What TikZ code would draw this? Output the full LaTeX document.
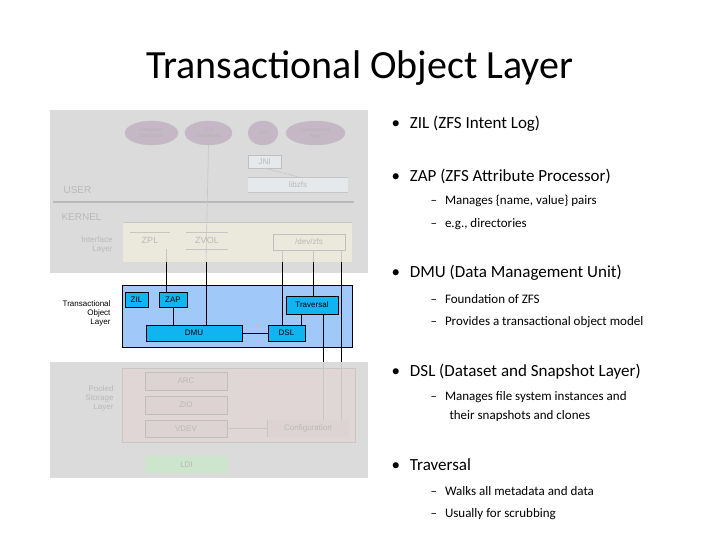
\documentclass[tikz,border=0pt]{standalone}
\usepackage{fontspec}
\setmainfont{Carlito}
\newfontfamily\arial{Liberation Sans}
\definecolor{tolbg}{HTML}{A0C8F8}
\definecolor{tolbox}{HTML}{10B4F0}
\begin{document}
\begin{tikzpicture}[x=1pt,y=-1pt,
 fade/.style={draw=gray!45,line width=0.6pt},
 ell/.style={ellipse,draw=gray!50,fill=violet!25!gray!45,font=\arial\fontsize{5}{6}\selectfont,text=gray!60,inner sep=0pt,align=center},
 fbox/.style={draw=gray!50,font=\arial\fontsize{8}{9}\selectfont,text=gray!55},
 bbox/.style={draw=black,fill=tolbox,font=\arial\fontsize{8}{9}\selectfont,text=black},
 bl/.style={anchor=west,font=\fontsize{17}{20}\selectfont},
 sb/.style={anchor=west,font=\fontsize{13}{15}\selectfont,align=left},
 ln/.style={line width=0.6pt}]
\usetikzlibrary{shapes.geometric}
\useasboundingbox (0,0) rectangle (720,540);
\fill[white] (0,0) rectangle (720,540);
\node[font=\fontsize{40}{46}\selectfont] (title) at (360,68) {Transactional Object Layer};
% top gray
\fill[gray!28] (50,110) rectangle (368,273);
\fill[yellow!25!gray!25] (123,223) rectangle (352,262);
\node[ell,minimum width=53,minimum height=24] (e1) at (151.5,133) {Filesystem\\Consumer};
\node[ell,minimum width=47,minimum height=24] (e2) at (208.5,133) {ZFS\\Commands};
\node[ell,minimum width=30,minimum height=24] (e3) at (263,133) {GUI};
\node[ell,minimum width=59,minimum height=24] (e4) at (315.5,133) {Management\\Apps};
\node[fbox,fill=cyan!10!gray!20,minimum width=33,minimum height=13,inner sep=0] (jni) at (264.5,161.5) {JNI};
\node[fbox,fill=cyan!10!gray!20,minimum width=100,minimum height=15,inner sep=0,draw=none] (lib) at (298,184.5) {libzfs};
\draw[fade] (248,177)--(348,177) (248,192)--(348,192);
\draw[fade] (jni.south)--(lib.north);
\draw[gray!55,line width=2pt] (53,202)--(354,202);
\node[font=\arial\fontsize{10}{12}\selectfont,text=gray!55,anchor=west] (user) at (60,190) {USER};
\node[font=\arial\fontsize{10}{12}\selectfont,text=gray!55,anchor=west] (kern) at (58,217) {KERNEL};
\draw[fade] (123,222)--(352,222);
\node[font=\arial\fontsize{8}{9}\selectfont,text=gray!55,align=right,anchor=east] (ifl) at (116,245) {Interface\\Layer};
\node[font=\arial\fontsize{9}{10}\selectfont,text=gray!55] (zpl) at (150,240) {ZPL};
\draw[fade] (130,232)--(170,232);
\node[font=\arial\fontsize{9}{10}\selectfont,text=gray!55] (zvol) at (207,240) {ZVOL};
\draw[fade] (186,232)--(228,232) (186,249)--(228,249);
\node[fbox,fill=yellow!25!gray!25,minimum width=72,minimum height=16,inner sep=0] (dev) at (309,242) {/dev/zfs};
% blue
\draw[ln,fill=tolbg] (122,285) rectangle (352,347);
\node[font=\arial\fontsize{8}{9}\selectfont,align=right,anchor=east] (tol) at (114,313) {Transactional\\Object\\Layer};
\node[bbox,minimum width=23,minimum height=15,inner sep=0] (zil) at (136.5,299.5) {ZIL};
\node[bbox,minimum width=28,minimum height=15,inner sep=0] (zap) at (173,299.5) {ZAP};
\node[bbox,minimum width=52,minimum height=18,inner sep=0] (trav) at (312,305) {Traversal};
\node[bbox,minimum width=96,minimum height=16,inner sep=0] (dmu) at (194,333) {DMU};
\node[bbox,minimum width=37,minimum height=16,inner sep=0] (dsl) at (286.5,333) {DSL};
\draw[ln] (zap.south)--(zap.south|-dmu.north);
\draw[ln] (dmu)--(dsl);
\draw[ln] (301,325)--(301,314);
% bottom gray
\fill[gray!28] (50,362) rectangle (368,478);
\draw[fade,fill=red!15!gray!28] (122,368) rectangle (355,442);
\node[font=\arial\fontsize{8}{9}\selectfont,text=gray!55,align=right,anchor=east] (psl) at (117,398) {Pooled\\Storage\\Layer};
\node[fbox,fill=red!15!gray!30,minimum width=82,minimum height=18,inner sep=0] (arc) at (186,381) {ARC};
\node[fbox,fill=red!15!gray!30,minimum width=82,minimum height=18,inner sep=0] (zio) at (186,405) {ZIO};
\node[fbox,fill=red!15!gray!30,minimum width=82,minimum height=17,inner sep=0] (vdev) at (186,428.5) {VDEV};
\node[fbox,fill=red!15!gray!30,minimum width=82,minimum height=17,inner sep=0,draw=none] (conf) at (308,428.5) {Configuration};
\draw[fade] (vdev)--(conf.west);
\draw[fade] (conf.north west)--(conf.south west);
\node[fbox,fill=green!30!gray!30,draw=none,minimum width=83,minimum height=17,inner sep=0] (ldi) at (186.5,464.5) {LDI};
% vertical connectors
\draw[fade] (e2.south)--(206,262);
\draw[ln] (206,262)--(206,325);
\draw[fade] (166,249)--(166,262);
\draw[ln] (166,262)--(166,292);
\draw[fade] (282,250)--(282,262) (313,250)--(313,262) (341,250)--(341,262);
\draw[ln] (282,262)--(282,325);
\draw[ln] (313,262)--(313,296);
\draw[ln] (323,314)--(323,362) (341,262)--(341,362);
\draw[fade] (323,362)--(323,420) (341,362)--(341,420);
% text
\node[bl] (b1) at (388,124) {•\hspace{10pt}ZIL (ZFS Intent Log)};
\node[bl] (b2) at (388,176) {•\hspace{10pt}ZAP (ZFS Attribute Processor)};
\node[sb] (s1) at (427,201) {–\hspace{8pt}Manages \{name, value\} pairs};
\node[sb] (s2) at (427,224) {–\hspace{8pt}e.g., directories};
\node[bl] (b3) at (388,273) {•\hspace{10pt}DMU (Data Management Unit)};
\node[sb] (s3) at (427,299) {–\hspace{8pt}Foundation of ZFS};
\node[sb] (s4) at (427,322) {–\hspace{8pt}Provides a transactional object model};
\node[bl] (b4) at (388,372) {•\hspace{10pt}DSL (Dataset and Snapshot Layer)};
\node[sb] (s5) at (427,397) {–\hspace{8pt}Manages file system instances and};
\node[sb] (s6) at (446,416) {their snapshots and clones};
\node[bl] (b5) at (388,465) {•\hspace{10pt}Traversal};
\node[sb] (s7) at (427,491) {–\hspace{8pt}Walks all metadata and data};
\node[sb] (s8) at (427,514) {–\hspace{8pt}Usually for scrubbing};
\end{tikzpicture}
\end{document}
